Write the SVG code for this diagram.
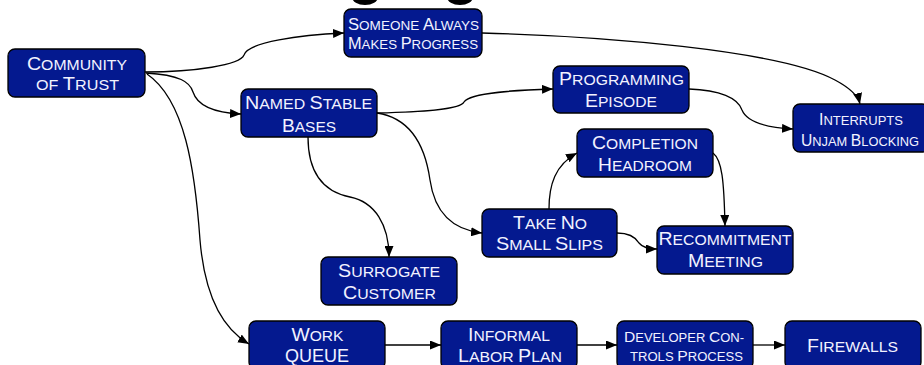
<svg xmlns="http://www.w3.org/2000/svg" width="924" height="365" viewBox="0 0 924 365">
<style>
.box{fill:#04198f;stroke:#000;stroke-width:1.3}
.t{font-family:"Liberation Sans",Arial,sans-serif;fill:#f2f2ff;text-anchor:middle}
.b{font-size:18px}
.s{font-size:14.5px}
.b2{font-size:16px}
.s2{font-size:13px}
.b3{font-size:15px}
.s3{font-size:12.5px}
.b4{font-size:16.5px}
.s4{font-size:13.5px}
.e{fill:none;stroke:#000;stroke-width:1.3;marker-end:url(#ah)}
</style>
<defs>
<marker id="ah" markerUnits="userSpaceOnUse" markerWidth="11" markerHeight="9" refX="11" refY="4.5" orient="auto">
<path d="M0,0 L11,4.5 L0,9 z" fill="#000"/>
</marker>
</defs>
<rect width="924" height="365" fill="#fff"/>
<ellipse cx="365" cy="-3" rx="13" ry="8" fill="#000"/>
<ellipse cx="460" cy="-3" rx="13" ry="8" fill="#000"/>
<g id="connectors">
<path class="e" d="M145,72 C195,72 240,65 244,55 C248,42 300,35 344,33"/>
<path class="e" d="M146,73 C180,75 190,82 193,92 C198,108 220,113 241,114"/>
<path class="e" d="M147,74 C185,100 195,170 200,240 C205,300 225,330 249,344"/>
<path class="e" d="M377,113 C420,112 460,110 464,102 C470,92 520,90 553,89"/>
<path class="e" d="M377,113 C410,118 425,145 430,180 C435,215 455,230 482,233"/>
<path class="e" d="M308,137 C308,175 325,192 350,197 C375,202 389,225 389,257"/>
<path class="e" d="M482,33 C600,36 780,50 835,80 C850,88 858,95 860,104"/>
<path class="e" d="M689,89 C720,90 738,98 742,110 C748,125 775,128 793,129"/>
<path class="e" d="M549,209 C549,185 555,165 577,153"/>
<path class="e" d="M713,153 C722,160 724,180 725,226"/>
<path class="e" d="M617,233 C630,233 636,238 639,243 C643,248 650,249 657,249"/>
<path class="e" d="M385,345 L441,345"/>
<path class="e" d="M577,345 L617,345"/>
<path class="e" d="M753,345 L785,345"/>
</g>
<g id="community">
<rect class="box" x="8" y="49" width="137" height="48" rx="7"/>
<text class="t" x="77" y="69.5" textLength="100" lengthAdjust="spacingAndGlyphs"><tspan class="b">C</tspan><tspan class="s">OMMUNITY</tspan></text>
<text class="t" x="77.5" y="90" textLength="83" lengthAdjust="spacingAndGlyphs"><tspan class="s">OF </tspan><tspan class="b">T</tspan><tspan class="s">RUST</tspan></text>
</g>
<g id="someone">
<rect class="box" x="344" y="9" width="138" height="48" rx="7"/>
<text class="t" x="413.5" y="30" textLength="131" lengthAdjust="spacingAndGlyphs"><tspan class="b2">S</tspan><tspan class="s2">OMEONE </tspan><tspan class="b2">A</tspan><tspan class="s2">LWAYS</tspan></text>
<text class="t" x="413" y="49" textLength="130" lengthAdjust="spacingAndGlyphs"><tspan class="b2">M</tspan><tspan class="s2">AKES </tspan><tspan class="b2">P</tspan><tspan class="s2">ROGRESS</tspan></text>
</g>
<g id="named">
<rect class="box" x="241" y="89" width="136" height="48" rx="7"/>
<text class="t" x="308.5" y="108.5" textLength="127" lengthAdjust="spacingAndGlyphs"><tspan class="b">N</tspan><tspan class="s">AMED </tspan><tspan class="b">S</tspan><tspan class="s">TABLE</tspan></text>
<text class="t" x="309" y="132" textLength="54" lengthAdjust="spacingAndGlyphs"><tspan class="b">B</tspan><tspan class="s">ASES</tspan></text>
</g>
<g id="programming">
<rect class="box" x="553" y="66" width="136" height="47" rx="7"/>
<text class="t" x="621.5" y="85" textLength="125" lengthAdjust="spacingAndGlyphs"><tspan class="b">P</tspan><tspan class="s">ROGRAMMING</tspan></text>
<text class="t" x="621" y="107" textLength="72" lengthAdjust="spacingAndGlyphs"><tspan class="b">E</tspan><tspan class="s">PISODE</tspan></text>
</g>
<g id="interrupts">
<rect class="box" x="793" y="104" width="136" height="48" rx="7"/>
<text class="t" x="861" y="125" textLength="84" lengthAdjust="spacingAndGlyphs"><tspan class="b4">I</tspan><tspan class="s4">NTERRUPTS</tspan></text>
<text class="t" x="860" y="145.5" textLength="118" lengthAdjust="spacingAndGlyphs"><tspan class="b4">U</tspan><tspan class="s4">NJAM </tspan><tspan class="b4">B</tspan><tspan class="s4">LOCKING</tspan></text>
</g>
<g id="completion">
<rect class="box" x="577" y="129" width="136" height="48" rx="7"/>
<text class="t" x="645" y="149" textLength="106" lengthAdjust="spacingAndGlyphs"><tspan class="b">C</tspan><tspan class="s">OMPLETION</tspan></text>
<text class="t" x="645" y="171" textLength="94" lengthAdjust="spacingAndGlyphs"><tspan class="b">H</tspan><tspan class="s">EADROOM</tspan></text>
</g>
<g id="takeno">
<rect class="box" x="482" y="209" width="135" height="48" rx="7"/>
<text class="t" x="550" y="229" textLength="74" lengthAdjust="spacingAndGlyphs"><tspan class="b">T</tspan><tspan class="s">AKE </tspan><tspan class="b">N</tspan><tspan class="s">O</tspan></text>
<text class="t" x="549.5" y="250" textLength="107" lengthAdjust="spacingAndGlyphs"><tspan class="b">S</tspan><tspan class="s">MALL </tspan><tspan class="b">S</tspan><tspan class="s">LIPS</tspan></text>
</g>
<g id="recommitment">
<rect class="box" x="657" y="226" width="136" height="48" rx="7"/>
<text class="t" x="725" y="245" textLength="133" lengthAdjust="spacingAndGlyphs"><tspan class="b">R</tspan><tspan class="s">ECOMMITMENT</tspan></text>
<text class="t" x="725.5" y="267" textLength="75" lengthAdjust="spacingAndGlyphs"><tspan class="b">M</tspan><tspan class="s">EETING</tspan></text>
</g>
<g id="surrogate">
<rect class="box" x="321" y="257" width="136" height="48" rx="7"/>
<text class="t" x="389" y="277" textLength="102" lengthAdjust="spacingAndGlyphs"><tspan class="b">S</tspan><tspan class="s">URROGATE</tspan></text>
<text class="t" x="389.5" y="299" textLength="93" lengthAdjust="spacingAndGlyphs"><tspan class="b">C</tspan><tspan class="s">USTOMER</tspan></text>
</g>
<g id="workqueue">
<rect class="box" x="249" y="321" width="136" height="48" rx="7"/>
<text class="t" x="317.5" y="341" textLength="52" lengthAdjust="spacingAndGlyphs"><tspan class="b">W</tspan><tspan class="s">ORK</tspan></text>
<text class="t" x="317" y="362" textLength="64" lengthAdjust="spacingAndGlyphs"><tspan class="b">QUEUE</tspan></text>
</g>
<g id="informal">
<rect class="box" x="441" y="321" width="136" height="48" rx="7"/>
<text class="t" x="509" y="341" textLength="82" lengthAdjust="spacingAndGlyphs"><tspan class="b">I</tspan><tspan class="s">NFORMAL</tspan></text>
<text class="t" x="510" y="362" textLength="104" lengthAdjust="spacingAndGlyphs"><tspan class="b">L</tspan><tspan class="s">ABOR </tspan><tspan class="b">P</tspan><tspan class="s">LAN</tspan></text>
</g>
<g id="developer">
<rect class="box" x="617" y="321" width="136" height="48" rx="7"/>
<text class="t" x="684" y="342" textLength="120" lengthAdjust="spacingAndGlyphs"><tspan class="b3">D</tspan><tspan class="s3">EVELOPER </tspan><tspan class="b3">C</tspan><tspan class="s3">ON-</tspan></text>
<text class="t" x="686.5" y="361" textLength="113" lengthAdjust="spacingAndGlyphs"><tspan class="s3">TROLS </tspan><tspan class="b3">P</tspan><tspan class="s3">ROCESS</tspan></text>
</g>
<g id="firewalls">
<rect class="box" x="785" y="321" width="136" height="48" rx="7"/>
<text class="t" x="852.5" y="352" textLength="91" lengthAdjust="spacingAndGlyphs"><tspan class="b">F</tspan><tspan class="s">IREWALLS</tspan></text>
</g>
</svg>
